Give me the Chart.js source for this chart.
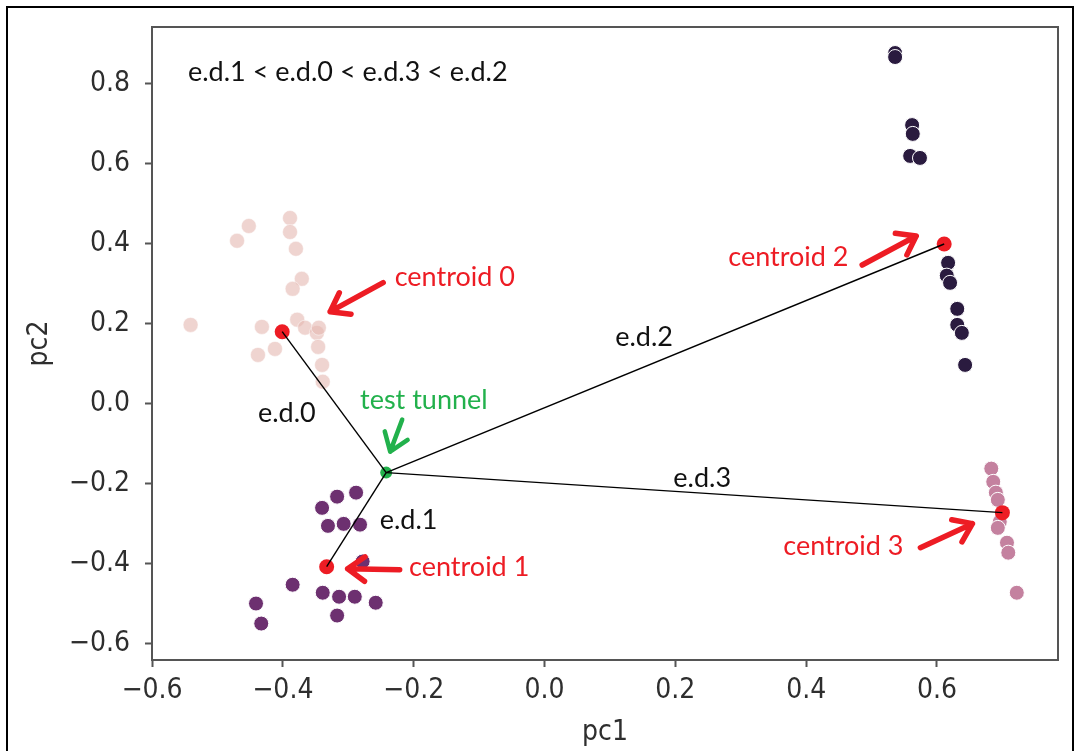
<!DOCTYPE html>
<html>
<head>
<meta charset="utf-8">
<script src="https://cdn.jsdelivr.net/npm/chart.js@4.4.1/dist/chart.umd.min.js"></script>
<style>
  html, body { margin: 0; padding: 0; background: #fff; }
  #wrap { position: relative; width: 1075px; height: 751px; overflow: hidden; }
  #frame { position: absolute; left: 6px; top: 6px; width: 1064px; height: 800px; border: 2px solid #000; pointer-events: none; }
</style>
</head>
<body>
<div id="wrap">
  <canvas id="kmeansChart" width="1075" height="751"></canvas>
  <div id="frame"></div>
</div>
<script>
'use strict'

// pc1 / pc2 coordinates per cluster
var cluster0 = [
  [-0.452, 0.444], [-0.470, 0.407], [-0.541, 0.197], [-0.389, 0.464], [-0.389, 0.429],
  [-0.380, 0.387], [-0.371, 0.312], [-0.385, 0.287], [-0.432, 0.192], [-0.438, 0.122],
  [-0.412, 0.137], [-0.378, 0.210], [-0.366, 0.190], [-0.348, 0.177], [-0.345, 0.190],
  [-0.346, 0.142], [-0.340, 0.097], [-0.339, 0.055]
]
var cluster1 = [
  [-0.340, -0.260], [-0.317, -0.232], [-0.288, -0.222], [-0.331, -0.305], [-0.307, -0.300],
  [-0.282, -0.302], [-0.278, -0.394], [-0.385, -0.452], [-0.339, -0.472], [-0.314, -0.482],
  [-0.290, -0.482], [-0.258, -0.497], [-0.317, -0.529], [-0.441, -0.499], [-0.433, -0.549]
]
var cluster2 = [
  [0.536, 0.876], [0.536, 0.866], [0.562, 0.696], [0.563, 0.674], [0.559, 0.619],
  [0.574, 0.614], [0.617, 0.352], [0.615, 0.320], [0.620, 0.302], [0.631, 0.237],
  [0.631, 0.197], [0.638, 0.177], [0.643, 0.097]
]
var cluster3 = [
  [0.683, -0.162], [0.686, -0.195], [0.690, -0.222], [0.693, -0.240], [0.696, -0.295],
  [0.693, -0.310], [0.707, -0.347], [0.709, -0.372], [0.722, -0.472]
]
var centroids = [[-0.401, 0.180], [-0.333, -0.407], [0.611, 0.399], [0.700, -0.272]]
var testTunnel = [-0.242, -0.172]

var xTicks = [-0.6, -0.4, -0.2, 0.0, 0.2, 0.4, 0.6]
var yTicks = [-0.6, -0.4, -0.2, 0.0, 0.2, 0.4, 0.6, 0.8]

var clusterColors = ['rgba(228,184,176,0.6)', '#6d3070', '#2a1b3f', '#c4819f']
var RED = '#ed1c24'
var GREEN = '#22b14c'

function toXY (arr) {
  return arr.map(function (p) { return { x: p[0], y: p[1] } })
}

var datasets = []

// distance lines from the test point to every centroid (drawn on top)
centroids.forEach(function (c, i) {
  datasets.push({
    label: 'e.d.' + i,
    data: toXY([testTunnel, c]),
    showLine: true,
    borderColor: '#000',
    borderWidth: 1.4,
    pointRadius: 0,
    order: 0
  })
})

datasets.push({ label: 'test tunnel', data: toXY([testTunnel]), pointRadius: 6, backgroundColor: GREEN, borderWidth: 0, order: 1 })
datasets.push({ label: 'centroids', data: toXY(centroids), pointRadius: 7.5, backgroundColor: RED, borderWidth: 0, order: 2 })

;[cluster0, cluster1, cluster2, cluster3].forEach(function (pts, i) {
  datasets.push({
    label: 'cluster ' + i,
    data: toXY(pts),
    pointRadius: 7.5,
    backgroundColor: clusterColors[i],
    borderColor: i === 0 ? 'rgba(255,255,255,0.5)' : '#fff',
    borderWidth: 1,
    order: 3 + i
  })
})

// text annotations, in data coordinates (left edge, vertical middle)
var notes = [
  { text: 'e.d.1 < e.d.0 < e.d.3 < e.d.2', x: -0.545, y: 0.829, color: '#111' },
  { text: 'centroid 0', x: -0.229, y: 0.315, color: RED },
  { text: 'centroid 1', x: -0.207, y: -0.409, color: RED },
  { text: 'centroid 2', x: 0.281, y: 0.365, color: RED },
  { text: 'centroid 3', x: 0.365, y: -0.355, color: RED },
  { text: 'test tunnel', x: -0.282, y: 0.008, color: GREEN },
  { text: 'e.d.0', x: -0.438, y: -0.025, color: '#111' },
  { text: 'e.d.1', x: -0.252, y: -0.292, color: '#111' },
  { text: 'e.d.2', x: 0.108, y: 0.165, color: '#111' },
  { text: 'e.d.3', x: 0.197, y: -0.185, color: '#111' }
]

// arrows: pixel offsets of tail and tip from the point they mark
var arrows = [
  { at: centroids[0], tail: [101, -49], tip: [48, -20], color: RED, width: 5.5 },
  { at: centroids[1], tail: [73, 3], tip: [21, 2], color: RED, width: 5.5 },
  { at: centroids[2], tail: [-82, 21], tip: [-28, -8], color: RED, width: 5.5 },
  { at: centroids[3], tail: [-82, 35], tip: [-30, 11], color: RED, width: 5.5 },
  { at: testTunnel, tail: [16, -53], tip: [4, -21], color: GREEN, width: 4.5 }
]

function drawArrow (ctx, x0, y0, x1, y1, color, width) {
  var ang = Math.atan2(y1 - y0, x1 - x0)
  var head = 21
  ctx.save()
  ctx.strokeStyle = color
  ctx.lineWidth = width
  ctx.lineCap = 'round'
  ctx.lineJoin = 'round'
  ctx.beginPath()
  ctx.moveTo(x0, y0)
  ctx.lineTo(x1, y1)
  ctx.moveTo(x1 - head * Math.cos(ang - 0.62), y1 - head * Math.sin(ang - 0.62))
  ctx.lineTo(x1, y1)
  ctx.lineTo(x1 - head * Math.cos(ang + 0.62), y1 - head * Math.sin(ang + 0.62))
  ctx.stroke()
  ctx.restore()
}

var annotatePlugin = {
  id: 'annotate',
  beforeDatasetsDraw: function (chart) {
    var ctx = chart.ctx
    var a = chart.chartArea
    ctx.save()
    ctx.strokeStyle = '#555'
    ctx.lineWidth = 2
    ctx.strokeRect(a.left, a.top, a.right - a.left, a.bottom - a.top)
    ctx.restore()
  },
  afterDatasetsDraw: function (chart) {
    var ctx = chart.ctx
    var xs = chart.scales.x
    var ys = chart.scales.y
    arrows.forEach(function (ar) {
      var px = xs.getPixelForValue(ar.at[0])
      var py = ys.getPixelForValue(ar.at[1])
      drawArrow(ctx, px + ar.tail[0], py + ar.tail[1], px + ar.tip[0], py + ar.tip[1], ar.color, ar.width)
    })
    ctx.save()
    ctx.font = '27px Lato'
    ctx.textAlign = 'left'
    ctx.textBaseline = 'middle'
    notes.forEach(function (n) {
      ctx.fillStyle = n.color
      ctx.fillText(n.text, xs.getPixelForValue(n.x), ys.getPixelForValue(n.y))
    })
    ctx.restore()
  }
}

var tickFont = { family: "'DejaVu Sans Condensed', 'DejaVu Sans'", size: 28 }
function fmt (v) {
  return (v < 0 ? '\u2212' : '') + Math.abs(v).toFixed(1)
}

var ctx = document.getElementById('kmeansChart').getContext('2d')
var chart = new Chart(ctx, {
  type: 'scatter',
  data: { datasets: datasets },
  options: {
    responsive: false,
    animation: false,
    events: [],
    layout: { padding: { top: 27, right: 17, left: 0, bottom: 0 } },
    plugins: { legend: { display: false }, tooltip: { enabled: false } },
    scales: {
      x: {
        min: -0.6,
        max: 0.785,
        afterBuildTicks: function (scale) { scale.ticks = xTicks.map(function (v) { return { value: v } }) },
        afterFit: function (scale) {
          scale.height = 91
          scale.paddingLeft = 0
          scale.paddingRight = 0
        },
        border: { display: false },
        grid: { drawOnChartArea: false, drawTicks: true, tickLength: 7, tickWidth: 2, color: '#555' },
        ticks: { font: tickFont, color: '#2e2e2e', padding: 7, maxRotation: 0, callback: fmt },
        title: { display: true, text: 'pc1', font: tickFont, color: '#2e2e2e', padding: { top: 0, bottom: 1 } }
      },
      y: {
        min: -0.64,
        max: 0.941,
        afterBuildTicks: function (scale) { scale.ticks = yTicks.map(function (v) { return { value: v } }) },
        afterFit: function (scale) {
          scale.width = 152
          scale.paddingTop = 0
          scale.paddingBottom = 0
        },
        border: { display: false },
        grid: { drawOnChartArea: false, drawTicks: true, tickLength: 7, tickWidth: 2, color: '#555' },
        ticks: { font: tickFont, color: '#2e2e2e', padding: 15, callback: fmt },
        title: { display: true, text: 'pc2', font: tickFont, color: '#2e2e2e', padding: { top: 23, bottom: 0 } }
      }
    }
  },
  plugins: [annotatePlugin]
})
</script>
</body>
</html>
